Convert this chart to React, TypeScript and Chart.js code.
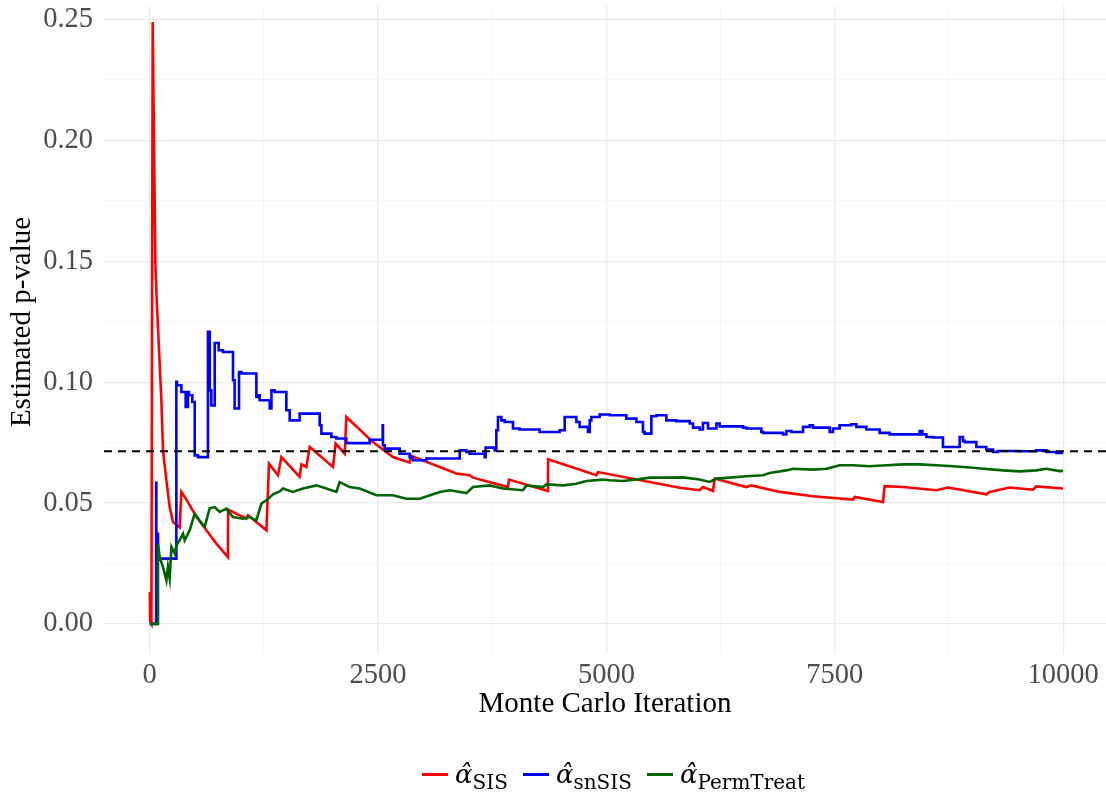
import React, { useEffect, useRef } from 'react';
import { Chart, registerables } from 'chart.js';

Chart.register(...registerables);

// ---- axes ----
const X_MIN = -500;
const X_MAX = 10469;
const Y_MIN = -0.01245;
const Y_MAX = 0.2556;
const X_MAJOR = [0, 2500, 5000, 7500, 10000];
const X_MINOR = [1250, 3750, 6250, 8750];
const Y_MAJOR = [0, 0.05, 0.1, 0.15, 0.2, 0.25];
const Y_MINOR = [0.025, 0.075, 0.125, 0.175, 0.225];
const X_TITLE = 'Monte Carlo Iteration';
const Y_TITLE = 'Estimated p-value';

// reference p-value (dashed line)
const TRUE_P = 0.0714;

// ---- series: [iteration, estimate] ----
const SIS: [number, number][] = [
  [1, 0.0132], [5, 0.001], [19, 0], [33, 0.249], [47, 0.2005], [62, 0.1498], [77, 0.134],
  [128, 0.0925], [146, 0.0718], [183, 0.0594], [219, 0.0483], [255, 0.0421], [328, 0.0399],
  [347, 0.0546], [419, 0.0504], [511, 0.0443], [621, 0.0387], [730, 0.0332], [857, 0.0276],
  [859, 0.0473], [1059, 0.0435], [1077, 0.0449], [1278, 0.0387], [1306, 0.0663], [1405, 0.0615],
  [1442, 0.069], [1642, 0.0608], [1661, 0.066], [1715, 0.0649], [1752, 0.0732], [2007, 0.0649],
  [2036, 0.0746], [2135, 0.0704], [2153, 0.0856], [2444, 0.0752], [2663, 0.069], [2846, 0.0667],
  [2860, 0.0695], [3357, 0.0622], [3503, 0.0615], [3539, 0.0605], [3922, 0.0566], [3933, 0.0597],
  [4360, 0.055], [4362, 0.0681], [4890, 0.0615], [4908, 0.0628], [5802, 0.0563], [6021, 0.0553],
  [6057, 0.0566], [6167, 0.055], [6185, 0.0601], [6532, 0.0566], [6587, 0.0573], [6897, 0.0546],
  [7261, 0.0528], [7699, 0.0514], [7718, 0.0525], [8027, 0.0504], [8046, 0.057], [8247, 0.0566],
  [8612, 0.0553], [8739, 0.0564], [9159, 0.0536], [9195, 0.0546], [9414, 0.0564], [9670, 0.0555],
  [9706, 0.0569], [10000, 0.056],
];

const SN_SIS: [number, number][] = [
  [1, 0], [71, 0], [73, 0.0584], [91, 0.0373], [110, 0.0276], [292, 0.027], [299, 0.1001],
  [347, 0.0987], [394, 0.0959], [395, 0.0897], [419, 0.0897], [430, 0.0959], [467, 0.0946],
  [493, 0.0918], [529, 0.0697], [638, 0.069], [651, 0.1208], [657, 0.1208], [675, 0.0966],
  [712, 0.0904], [755, 0.1162], [802, 0.1132], [912, 0.1125], [930, 0.1008], [978, 0.0891],
  [1004, 0.1042], [1168, 0.1036], [1186, 0.0939], [1204, 0.0946], [1314, 0.0925], [1333, 0.0891],
  [1368, 0.0966], [1496, 0.0959], [1533, 0.0884], [1569, 0.0842], [1642, 0.0842], [1678, 0.087],
  [1861, 0.087], [1880, 0.0822], [1989, 0.0787], [2044, 0.0773], [2153, 0.0767], [2171, 0.0748],
  [2408, 0.0748], [2518, 0.0762], [2551, 0.0762], [2554, 0.0822], [2573, 0.0739], [2737, 0.0725],
  [2846, 0.0704], [2882, 0.069], [3029, 0.0677], [3394, 0.0684], [3412, 0.0718], [3467, 0.0718],
  [3503, 0.0711], [3613, 0.0704], [3667, 0.0704], [3678, 0.069], [3686, 0.0729], [3777, 0.0729],
  [3795, 0.0718], [3813, 0.0801], [3850, 0.0856], [3886, 0.0842], [3977, 0.0835], [4050, 0.0808],
  [4269, 0.0804], [4488, 0.0794], [4543, 0.0801], [4562, 0.0856], [4671, 0.0856], [4707, 0.0835],
  [4798, 0.0815], [4817, 0.0794], [4835, 0.0842], [4926, 0.0856], [5036, 0.0866], [5218, 0.0863],
  [5328, 0.0849], [5400, 0.0835], [5419, 0.0794], [5492, 0.0787], [5547, 0.0859], [5656, 0.0863],
  [5766, 0.0842], [5912, 0.0839], [5948, 0.0829], [6021, 0.0812], [6057, 0.0804], [6076, 0.0831],
  [6112, 0.0831], [6149, 0.0808], [6204, 0.0808], [6240, 0.0829], [6495, 0.0817], [6532, 0.0812],
  [6696, 0.0808], [6714, 0.0794], [6933, 0.079], [6970, 0.0784], [7025, 0.0798], [7152, 0.0794],
  [7225, 0.0815], [7261, 0.0822], [7444, 0.0812], [7480, 0.0794], [7553, 0.0808], [7681, 0.0822],
  [7736, 0.0826], [7846, 0.0815], [7991, 0.0804], [8101, 0.079], [8247, 0.0784], [8429, 0.0784],
  [8459, 0.0798], [8503, 0.0784], [8575, 0.0773], [8684, 0.0771], [8739, 0.0732], [8867, 0.0732],
  [8903, 0.0773], [8922, 0.0757], [9050, 0.0752], [9159, 0.0732], [9232, 0.0721], [9286, 0.0711],
  [9341, 0.0715], [9524, 0.0715], [9706, 0.0714], [9816, 0.0718], [9926, 0.0711], [9962, 0.0707],
  [10000, 0.0707],
];

const PERM_TREAT: [number, number][] = [
  [1, 0], [88, 0], [91, 0.0332], [110, 0.0276], [146, 0.0235], [183, 0.018], [200, 0.0235],
  [219, 0.0188], [238, 0.0318], [274, 0.0291], [292, 0.0325], [328, 0.0346], [365, 0.0373],
  [383, 0.0346], [438, 0.0387], [493, 0.0456], [547, 0.0428], [602, 0.0401], [657, 0.0478],
  [712, 0.0483], [766, 0.0463], [840, 0.0477], [912, 0.0442], [1021, 0.0435], [1095, 0.0442],
  [1168, 0.0428], [1223, 0.0498], [1278, 0.0511], [1350, 0.0536], [1423, 0.0548], [1459, 0.056],
  [1569, 0.0546], [1678, 0.056], [1825, 0.0573], [1934, 0.056], [2044, 0.0546], [2080, 0.0587],
  [2189, 0.0566], [2299, 0.056], [2482, 0.0532], [2663, 0.0532], [2810, 0.0518], [2956, 0.0518],
  [3175, 0.0546], [3284, 0.0553], [3467, 0.0541], [3539, 0.0566], [3722, 0.0573], [3868, 0.056],
  [4087, 0.0553], [4124, 0.0573], [4306, 0.0566], [4343, 0.0577], [4525, 0.0573], [4671, 0.058],
  [4780, 0.0591], [4962, 0.0597], [5036, 0.0594], [5181, 0.0591], [5328, 0.0597], [5474, 0.0605],
  [5692, 0.0605], [5838, 0.0606], [6021, 0.0597], [6130, 0.0587], [6204, 0.0601], [6349, 0.0605],
  [6532, 0.0611], [6714, 0.0615], [6787, 0.0624], [6970, 0.0635], [7043, 0.0642], [7261, 0.0638],
  [7408, 0.0642], [7553, 0.0656], [7699, 0.0656], [7882, 0.0652], [8065, 0.0656], [8247, 0.066],
  [8429, 0.066], [8612, 0.0656], [8794, 0.0652], [8977, 0.0647], [9159, 0.0641], [9341, 0.0635],
  [9524, 0.0631], [9706, 0.0635], [9816, 0.0642], [9962, 0.0632], [10000, 0.0633],
];

const SERIES_COLORS = ['#ff0000', '#0000ff', '#006400'];
const LEGEND_SUBS = ['SIS', 'snSIS', 'PermTreat'];

const isMajorX = (v: number) => X_MAJOR.includes(v);
const isMajorY = (v: number) => Math.abs(v * 20 - Math.round(v * 20)) < 1e-6;

const toXY = (pts: [number, number][]) => pts.map(([x, y]) => ({ x, y }));

// y-axis title drawn centred on the (uncropped) panel, like ggplot does
const yTitlePlugin = {
  id: 'yTitle',
  afterDraw(chart: any) {
    const { ctx } = chart;
    ctx.save();
    ctx.translate(22, 322);
    ctx.rotate(-Math.PI / 2);
    ctx.font = '29px "Liberation Serif", serif';
    ctx.fillStyle = '#000000';
    ctx.textAlign = 'center';
    ctx.textBaseline = 'middle';
    ctx.fillText(Y_TITLE, 0, 0);
    ctx.restore();
  },
};

export default function App() {
  const canvasRef = useRef<HTMLCanvasElement | null>(null);

  useEffect(() => {
    document.body.style.margin = '0';
    const canvas = canvasRef.current;
    if (!canvas) return;
    const tickFont = { family: '"Liberation Serif", serif', size: 28.5 };
    const titleFont = { family: '"Liberation Serif", serif', size: 29 };
    const lineDs = (label: string, pts: [number, number][], color: string, order: number, stepped: any) => ({
      label,
      data: toXY(pts),
      borderColor: color,
      backgroundColor: color,
      borderWidth: 2.6,
      pointRadius: 0,
      tension: 0,
      stepped,
      fill: false,
      order,
    });
    const chart = new Chart(canvas, {
      type: 'line',
      data: {
        datasets: [
          {
            label: 'true',
            data: [
              { x: X_MIN, y: TRUE_P },
              { x: X_MAX, y: TRUE_P },
            ],
            borderColor: '#000000',
            borderWidth: 2,
            borderDash: [8, 6],
            pointRadius: 0,
            fill: false,
            order: 0,
          },
          lineDs('SIS', SIS, SERIES_COLORS[0], 3, false),
          lineDs('snSIS', SN_SIS, SERIES_COLORS[1], 2, 'after'),
          lineDs('PermTreat', PERM_TREAT, SERIES_COLORS[2], 1, false),
        ],
      },
      options: {
        responsive: false,
        animation: false,
        parsing: true,
        layout: { padding: { top: 6, right: 0, bottom: 0, left: 0 } },
        plugins: {
          legend: { display: false },
          tooltip: { enabled: false },
        },
        scales: {
          x: {
            type: 'linear',
            min: X_MIN,
            max: X_MAX,
            afterBuildTicks: (scale: any) => {
              scale.ticks = [...X_MAJOR, ...X_MINOR].sort((a, b) => a - b).map((v) => ({ value: v }));
            },
            afterFit: (scale: any) => {
              scale.height = 139;
              scale.paddingLeft = 0;
              scale.paddingRight = 0;
            },
            ticks: {
              autoSkip: false,
              maxRotation: 0,
              padding: 4,
              color: '#4d4d4d',
              font: tickFont,
              callback: (v: any) => (isMajorX(Number(v)) ? String(v) : ''),
            },
            grid: {
              drawTicks: false,
              color: (ctx: any) => (ctx.tick && isMajorX(ctx.tick.value) ? '#ebebeb' : '#f4f4f4'),
              lineWidth: (ctx: any) => (ctx.tick && isMajorX(ctx.tick.value) ? 1.3 : 0.8),
            },
            border: { display: false },
            title: {
              display: true,
              text: X_TITLE,
              color: '#000000',
              font: titleFont,
              padding: { top: 0, bottom: 71 },
            },
          },
          y: {
            type: 'linear',
            min: Y_MIN,
            max: Y_MAX,
            afterBuildTicks: (scale: any) => {
              scale.ticks = [...Y_MAJOR, ...Y_MINOR].sort((a, b) => a - b).map((v) => ({ value: v }));
            },
            afterFit: (scale: any) => {
              scale.width = 104;
              scale.paddingTop = 0;
              scale.paddingBottom = 0;
            },
            ticks: {
              autoSkip: false,
              padding: 11,
              color: '#4d4d4d',
              font: tickFont,
              callback: (v: any) => (isMajorY(Number(v)) ? Number(v).toFixed(2) : ''),
            },
            grid: {
              drawTicks: false,
              color: (ctx: any) => (ctx.tick && isMajorY(ctx.tick.value) ? '#ebebeb' : '#f4f4f4'),
              lineWidth: (ctx: any) => (ctx.tick && isMajorY(ctx.tick.value) ? 1.3 : 0.8),
            },
            border: { display: false },
            title: { display: false },
          },
        },
      },
      plugins: [yTitlePlugin],
    } as any);
    return () => chart.destroy();
  }, []);

  return (
    <div style={{ position: 'absolute', left: 0, top: 0, width: 1106, height: 793, background: '#ffffff' }}>
      <canvas ref={canvasRef} width={1106} height={793} style={{ display: 'block' }} />
      <div
        style={{
          position: 'absolute',
          left: 422,
          top: 757,
          height: 36,
          display: 'flex',
          alignItems: 'center',
          fontFamily: '"DejaVu Serif", serif',
          color: '#000000',
          whiteSpace: 'nowrap',
        }}
      >
        {LEGEND_SUBS.map((sub, i) => (
          <span key={sub} style={{ display: 'inline-flex', alignItems: 'center', marginRight: 15 }}>
            <span
              style={{
                display: 'inline-block',
                width: 26,
                height: 3,
                background: SERIES_COLORS[i],
                marginRight: 7,
                position: 'relative',
                top: -1,
              }}
            />
            <span style={{ fontSize: 26, lineHeight: '36px' }}>
              <span style={{ fontStyle: 'italic' }}>{'\u03B1\u0302'}</span>
              <span style={{ fontSize: 20, position: 'relative', top: 6 }}>{sub}</span>
            </span>
          </span>
        ))}
      </div>
    </div>
  );
}
